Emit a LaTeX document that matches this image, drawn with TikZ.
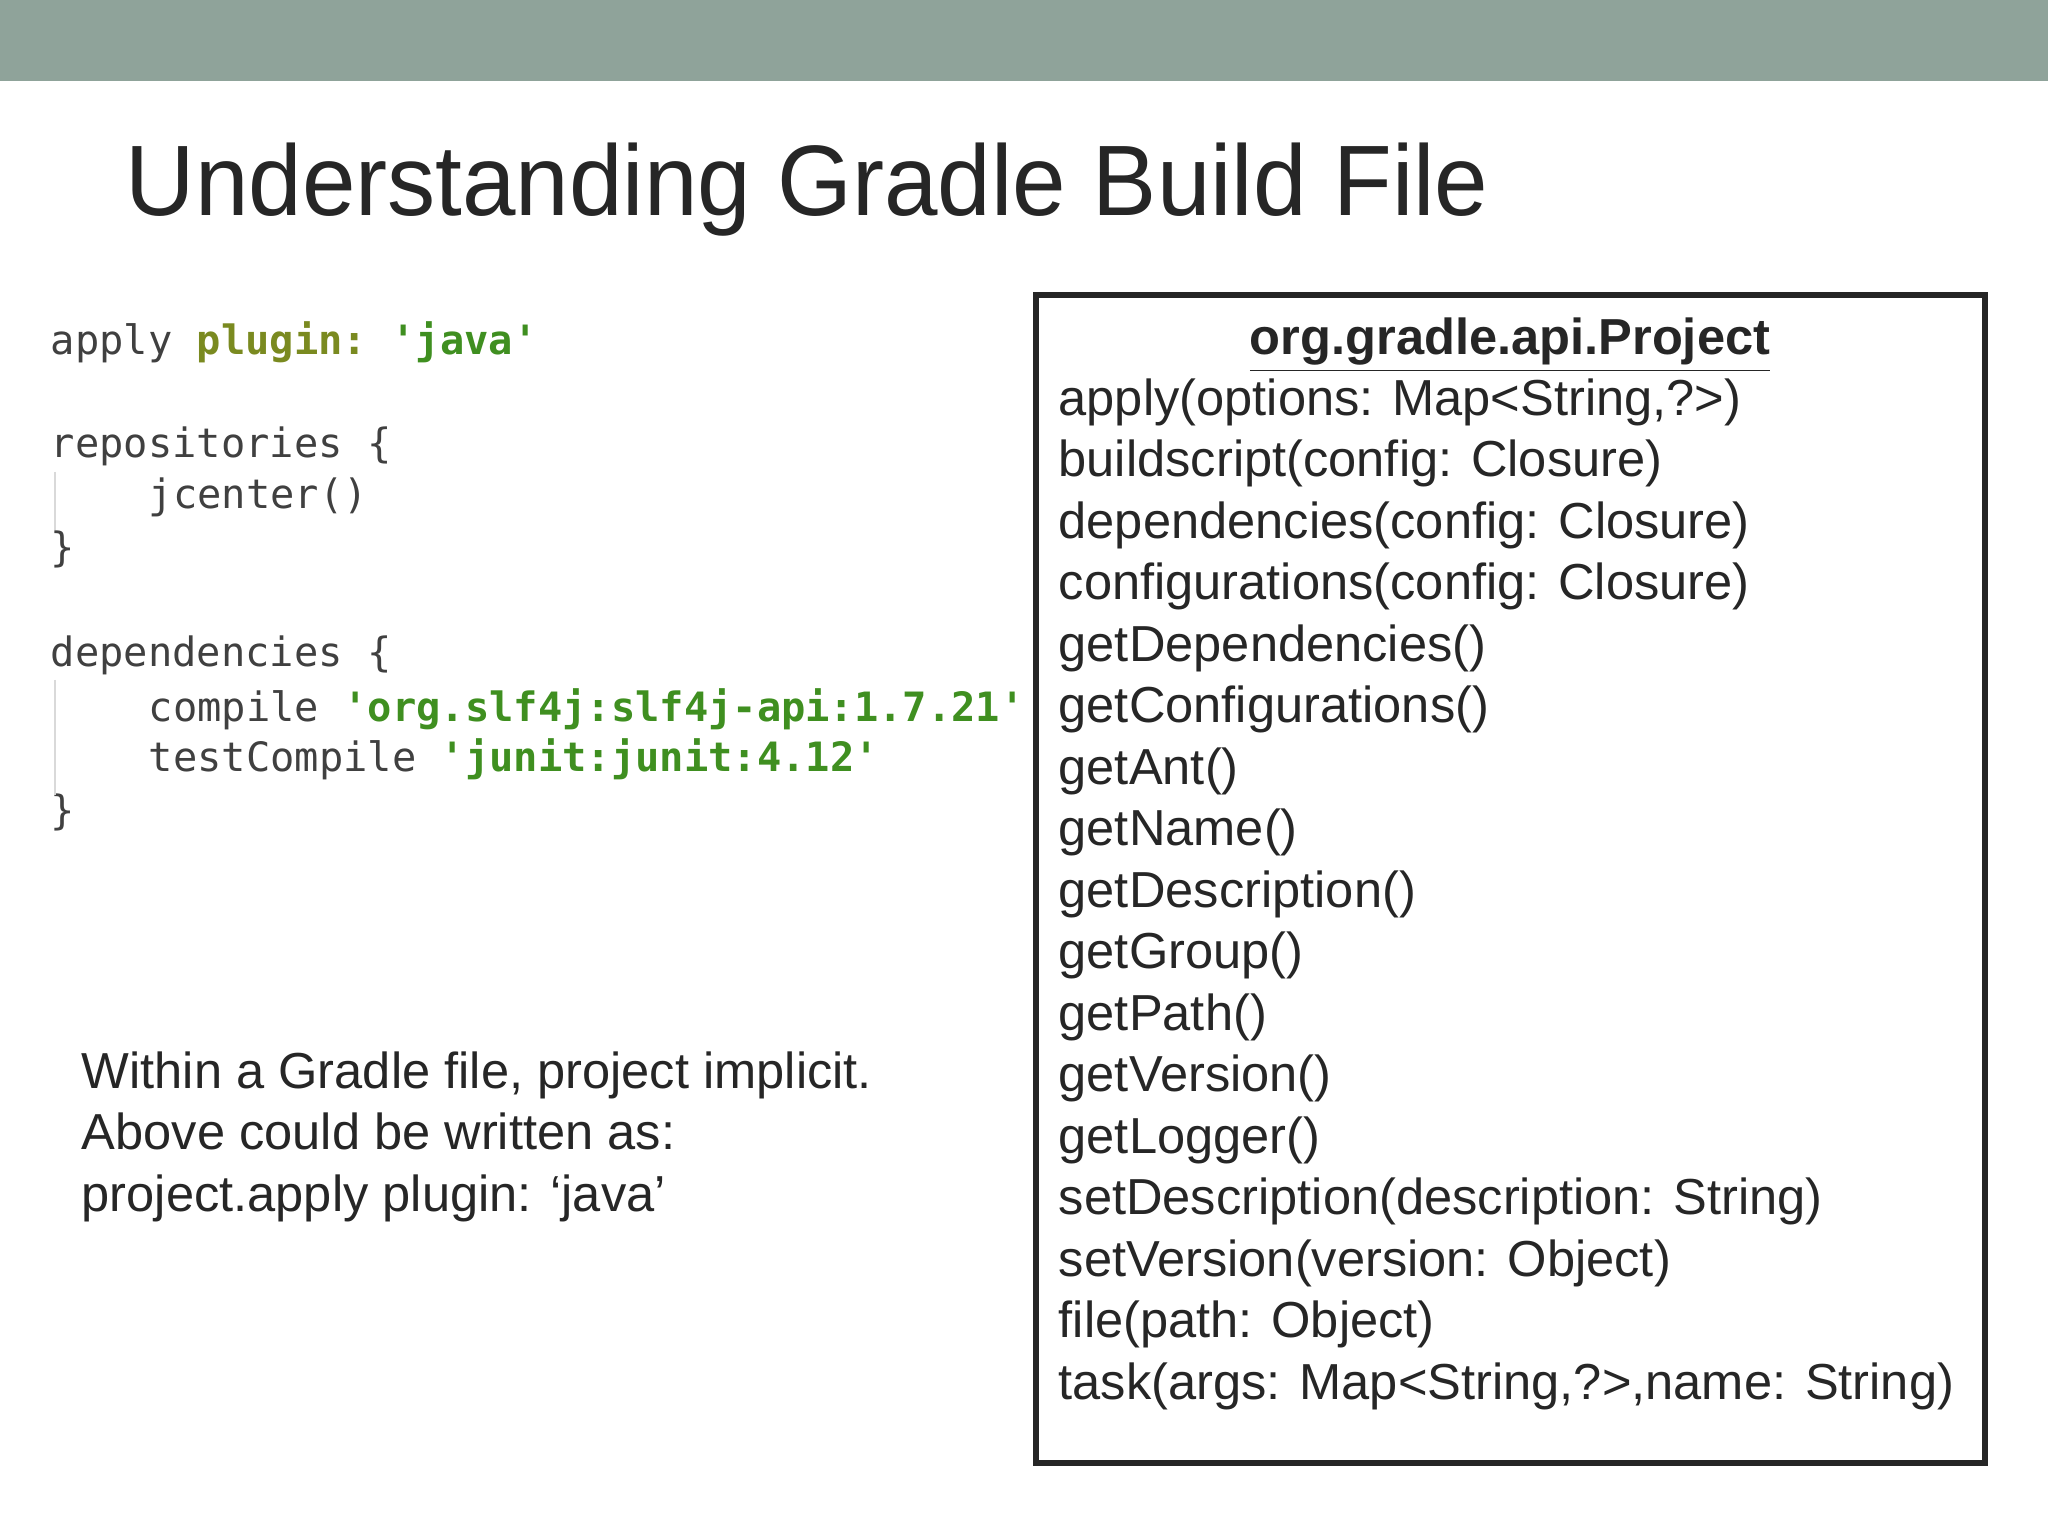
\documentclass[tikz,border=0pt]{standalone}
\usepackage{fontspec}
\setmainfont{Liberation Sans}
\setmonofont{DejaVu Sans Mono}
\begin{document}
\begin{tikzpicture}[x=1cm,y=1cm,
  code/.style={anchor=base west,inner sep=0pt,font=\ttfamily\fontsize{11.5}{12}\selectfont,text=black!75},
  item/.style={anchor=base west,inner sep=0pt,font=\fontsize{14.4}{16}\selectfont,text=black!85}]
\definecolor{bar}{HTML}{8FA39A}
\definecolor{kw}{HTML}{7A8A20}
\definecolor{str}{HTML}{3F8F20}
\useasboundingbox (0,0) rectangle (20.48,-15.36);
\fill[bar] (0,0) rectangle (20.48,-0.81);
\node[anchor=base west,inner sep=0pt,font=\fontsize{28.5}{32}\selectfont,text=black!85,xscale=0.96] (title) at (1.25,-2.16) {Understanding Gradle Build File};
% code
\node[code] (c1) at (0.50,-3.55) {apply \textcolor{kw}{\bfseries plugin:} \textcolor{str}{\bfseries 'java'}};
\node[code] (c2) at (0.50,-4.58) {repositories \{};
\node[code] (c3) at (1.48,-5.09) {jcenter()};
\node[code] (c4) at (0.50,-5.62) {\}};
\node[code] (c5) at (0.50,-6.67) {dependencies \{};
\node[code] (c6) at (1.48,-7.21) {compile \textcolor{str}{\bfseries 'org.slf4j:slf4j-api:1.7.21'}};
\node[code] (c7) at (1.48,-7.72) {testCompile \textcolor{str}{\bfseries 'junit:junit:4.12'}};
\node[code] (c8) at (0.50,-8.25) {\}};
\draw[black!15] (0.55,-4.72) -- (0.55,-5.30);
\draw[black!15] (0.55,-6.80) -- (0.55,-7.95);
% left text
\node[item] (l1) at (0.81,-10.88) {Within a Gradle file, project implicit.};
\node[item] (l2) at (0.81,-11.49) {Above could be written as:};
\node[item] (l3) at (0.81,-12.11) {project.apply plugin: ‘java’};
% box
\draw[line width=1.6pt,black!85] (10.36,-2.95) rectangle (19.85,-14.63);
\node[anchor=base,inner sep=0pt,font=\fontsize{14.4}{16}\selectfont\bfseries,text=black!85] (hdr) at (15.10,-3.55) {\underline{org.gradle.api.Project}};
\foreach \t [count=\i from 0] in {apply(options: Map<String{,}?>),buildscript(config: Closure),dependencies(config: Closure),configurations(config: Closure),getDependencies(),getConfigurations(),getAnt(),getName(),getDescription(),getGroup(),getPath(),getVersion(),getLogger(),setDescription(description: String),setVersion(version: Object),file(path: Object),task(args: Map<String{,}?>{,}name: String)}
  \node[item] (m\i) at (10.58,{-4.153-0.615*\i}) {\t};
\end{tikzpicture}
\end{document}
